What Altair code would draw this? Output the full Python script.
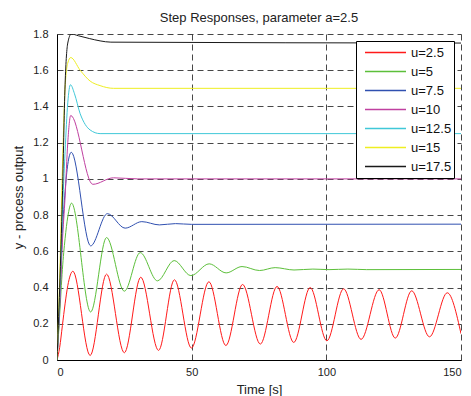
import altair as alt
import pandas as pd

FONT = "Liberation Sans"

series_names = ["u=2.5", "u=5", "u=7.5", "u=10", "u=12.5", "u=15", "u=17.5"]
series_colors = ["#ff1a1a", "#5cbf3a", "#3050b0", "#c040a0", "#40c8d8", "#eeee22", "#1a1a1a"]

t_u25 = [0, 1, 2, 3, 4, 5.9, 12.3, 18.4, 25, 31.1, 37.7, 43.6, 49.9, 56.4, 62.7, 68.9, 75.5,
         81.7, 87.9, 94, 100.2, 106.4, 112.9, 119.6, 125.6, 131.7, 138.3, 144.9, 150]
y_u25 = [0, 0.07, 0.19, 0.31, 0.41, 0.49, 0.025, 0.474, 0.04, 0.457, 0.053, 0.443, 0.066, 0.432,
         0.08, 0.417, 0.088, 0.406, 0.097, 0.40, 0.106, 0.393, 0.114, 0.388, 0.121, 0.382, 0.128,
         0.371, 0.145]

t_u5 = [0, 1, 2, 3, 4, 5.4, 12.5, 18.4, 25, 30.9, 37.3, 43.5, 49.7, 56.5, 62.8, 68.7, 75.2, 81,
        88, 95, 101, 108, 115, 150]
y_u5 = [0, 0.25, 0.5, 0.67, 0.79, 0.866, 0.265, 0.676, 0.38, 0.593, 0.437, 0.549, 0.466, 0.531,
        0.481, 0.516, 0.494, 0.51, 0.497, 0.502, 0.499, 0.502, 0.499, 0.5]

t_u75 = [0, 1, 2, 3, 4, 5.3, 12.5, 18.7, 25.3, 31.5, 38, 44, 50, 150]
y_u75 = [0, 0.3, 0.7, 0.93, 1.08, 1.147, 0.63, 0.808, 0.728, 0.764, 0.746, 0.753, 0.749, 0.75]

t_u10 = [0, 1, 2, 3, 4, 5.1, 13.3, 21, 30, 150]
y_u10 = [0, 0.3, 0.65, 0.9, 1.2, 1.35, 0.97, 1.006, 1.0, 1.0]

t_u125 = [0, 1, 2, 3, 4, 5, 6.5, 8.6, 10.5, 12.3, 16, 150]
y_u125 = [0, 0.35, 0.8, 1.15, 1.42, 1.52, 1.47, 1.36, 1.30, 1.27, 1.25, 1.25]

t_u15 = [0, 1, 2, 3, 4, 5.1, 8.6, 12.3, 16, 21, 150]
y_u15 = [0, 0.45, 1.05, 1.5, 1.64, 1.67, 1.60, 1.54, 1.515, 1.5, 1.5]

t_u175 = [0, 1, 2, 3, 4, 5.3, 8, 12, 16, 20, 150]
y_u175 = [0, 0.4, 0.9, 1.52, 1.75, 1.80, 1.79, 1.775, 1.762, 1.755, 1.75]

x_ticks = [0, 50, 100, 150]
y_ticks = [0, 0.2, 0.4, 0.6, 0.8, 1.0, 1.2, 1.4, 1.6, 1.8]

frames = []
for name, ts, ys in zip(series_names,
                        [t_u25, t_u5, t_u75, t_u10, t_u125, t_u15, t_u175],
                        [y_u25, y_u5, y_u75, y_u10, y_u125, y_u15, y_u175]):
    frames.append(pd.DataFrame({"t": ts, "y": ys, "series": name}))
df = pd.concat(frames, ignore_index=True)

chart = alt.Chart(df).mark_line(strokeWidth=1, interpolate="monotone", clip=True).encode(
    x=alt.X("t:Q", title="Time [s]",
            scale=alt.Scale(domain=[0, 150], nice=False, zero=False),
            axis=alt.Axis(values=x_ticks, labelPadding=6, titleX=202, titleY=33,
                          titleBaseline="alphabetic")),
    y=alt.Y("y:Q", title="y - process output",
            scale=alt.Scale(domain=[0, 1.8], nice=False),
            axis=alt.Axis(values=y_ticks, format=".1~f", labelPadding=9, titleX=-35,
                          titleY=163, titleAngle=270, titleAlign="center",
                          titleBaseline="alphabetic")),
    color=alt.Color("series:N",
                    scale=alt.Scale(domain=series_names, range=series_colors),
                    legend=alt.Legend(title=None, orient="none", legendX=299, legendY=7,
                                      fillColor="white", strokeColor="black", padding=2,
                                      symbolType="stroke", symbolSize=1681, symbolStrokeWidth=1.5,
                                      labelFont=FONT, labelFontSize=13, labelColor="#111",
                                      clipHeight=19, rowPadding=0, symbolOffset=6,
                                      labelOffset=4, cornerRadius=0)),
).properties(
    width=404, height=326,
    title=alt.TitleParams("Step Responses, parameter a=2.5", font=FONT, fontSize=13,
                          fontWeight="normal", color="#222", anchor="middle", offset=3),
    autosize="none",
    padding={"left": 57, "top": 34, "right": 10, "bottom": 36},
).configure_view(stroke=None).configure_axis(
    domainColor="#000", domainWidth=1, ticks=False, tickSize=0,
    grid=True, gridColor="#333", gridDash=[6, 4], gridWidth=1, gridOpacity=0.9,
    labelFont=FONT, labelFontSize=11, labelColor="#222",
    titleFont=FONT, titleFontSize=13, titleFontWeight="normal", titleColor="#222",
)

chart.save("out.html", embed_options={"renderer": "svg", "actions": False})
